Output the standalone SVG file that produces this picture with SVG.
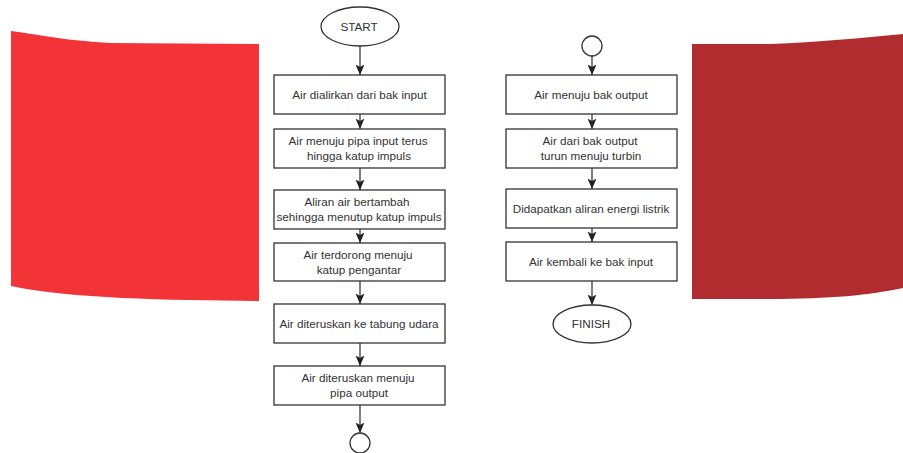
<svg xmlns="http://www.w3.org/2000/svg" width="903" height="453" viewBox="0 0 903 453">
<style>
.n{fill:#fff;stroke:#333;stroke-width:1.3}
.t{font-family:"Liberation Sans",Arial,sans-serif;font-size:11.7px;fill:#333;text-anchor:middle}
.c{fill:none;stroke:#3a3a3a;stroke-width:1.3;marker-end:url(#a)}
</style>
<defs><marker id="a" markerUnits="userSpaceOnUse" markerWidth="12" markerHeight="10" refX="10.500" refY="4.500" orient="auto"><path d="M0 0L10.500 4.500L0 9L2.500 4.500Z" fill="#222"/></marker></defs>
<rect width="903" height="453" fill="#fff"/>
<path id="left-panel" d="M11 31C40 35 70 41 110 43L259 44L259 301C170 300 70 299 11 286Z" fill="#f23438"/>
<path id="right-panel" d="M692 44L770 44C820 42 860 38 903 34L903 288C870 295 830 299 770 299L692 299Z" fill="#b12c2e"/>
<g id="connectors">
<path class="c" d="M360 46V75"/><path class="c" d="M360 114V129"/><path class="c" d="M360 168V190"/><path class="c" d="M360 229V243"/><path class="c" d="M360 281V304"/><path class="c" d="M360 343V366"/><path class="c" d="M360 405V433"/>
<path class="c" d="M592 56V75"/><path class="c" d="M592 114V129"/><path class="c" d="M592 168V189"/><path class="c" d="M592 228V242"/><path class="c" d="M592 281V305"/>
</g>
<g id="start"><ellipse class="n" cx="360" cy="26.5" rx="39" ry="19.5"/><text class="t" x="359" y="31">START</text></g>
<g id="b1"><rect class="n" x="274" y="75" width="171" height="39"/><text class="t" x="359.500" y="99">Air dialirkan dari bak input</text></g>
<g id="b2"><rect class="n" x="274" y="129" width="171" height="39"/><text class="t" x="358" y="145">Air menuju pipa input terus</text><text class="t" x="359" y="160">hingga katup impuls</text></g>
<g id="b3"><rect class="n" x="274" y="190" width="171" height="39"/><text class="t" x="357" y="206">Aliran air bertambah</text><text class="t" x="359" y="221">sehingga menutup katup impuls</text></g>
<g id="b4"><rect class="n" x="274" y="243" width="171" height="38"/><text class="t" x="358" y="259">Air terdorong menuju</text><text class="t" x="359" y="274">katup pengantar</text></g>
<g id="b5"><rect class="n" x="274" y="304" width="171" height="39"/><text class="t" x="359" y="328">Air diteruskan ke tabung udara</text></g>
<g id="b6"><rect class="n" x="274" y="366" width="171" height="39"/><text class="t" x="358" y="382">Air diteruskan menuju</text><text class="t" x="359" y="397">pipa output</text></g>
<g id="off1"><circle class="n" cx="360" cy="443" r="10"/></g>
<g id="off2"><circle class="n" cx="592" cy="46" r="10"/></g>
<g id="b7"><rect class="n" x="506" y="75" width="171" height="39"/><text class="t" x="591" y="99">Air menuju bak output</text></g>
<g id="b8"><rect class="n" x="506" y="129" width="171" height="39"/><text class="t" x="590" y="145">Air dari bak output</text><text class="t" x="591" y="160">turun menuju turbin</text></g>
<g id="b9"><rect class="n" x="506" y="189" width="171" height="39"/><text class="t" x="591" y="213">Didapatkan aliran energi listrik</text></g>
<g id="b10"><rect class="n" x="506" y="242" width="171" height="39"/><text class="t" x="591" y="266">Air kembali ke bak input</text></g>
<g id="finish"><ellipse class="n" cx="592" cy="324" rx="39" ry="19"/><text class="t" x="591" y="328">FINISH</text></g>
</svg>
